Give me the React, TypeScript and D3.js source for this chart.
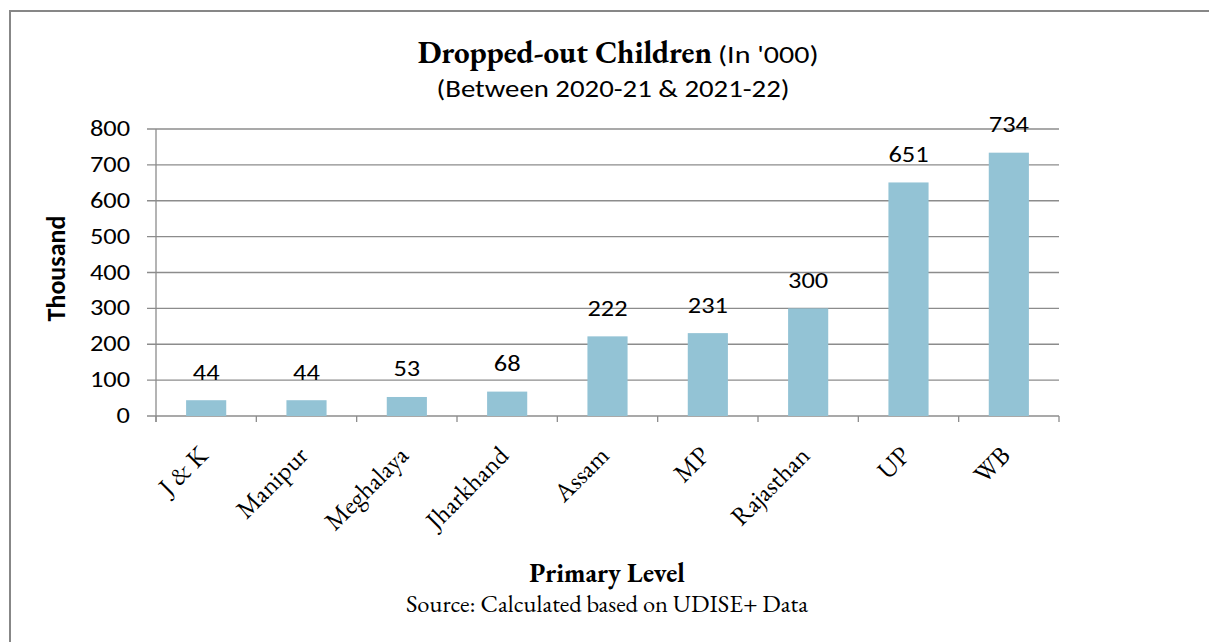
import React, { useEffect, useRef } from 'react'
import * as d3 from 'd3'

// states and dropped-out children ('000), primary level
const STATES = ['J & K', 'Manipur', 'Meghalaya', 'Jharkhand', 'Assam', 'MP', 'Rajasthan', 'UP', 'WB']
const DROPOUTS = [44, 44, 53, 68, 222, 231, 300, 651, 734]
const Y_TICKS = [0, 100, 200, 300, 400, 500, 600, 700, 800]

const W = 1209
const H = 642
const SANS = 'Carlito, Calibri, "Open Sans", sans-serif'
const SERIF = '"EB Garamond", Garamond, "Liberation Serif", serif'
const SX = 1.2 // the source picture is a bit wider than tall

const App: React.FC = () => {
  const ref = useRef<SVGSVGElement>(null)

  useEffect(() => {
    if (!ref.current) return
    const svg = d3.select(ref.current)
    svg.selectAll('*').remove()

    const plot = { left: 156, right: 1059, top: 129, bottom: 416 }
    const grid = '#8c8c8c'

    // outer frame (only left and top visible)
    svg.append('path')
      .attr('d', `M10,${H} L10,11 L${W},11`)
      .attr('fill', 'none')
      .attr('stroke', '#878787')
      .attr('stroke-width', 2)

    const x = d3.scaleBand<string>()
      .domain(STATES)
      .range([plot.left, plot.right])
      .paddingInner(0.6)
      .paddingOuter(0.3)

    const y = d3.scaleLinear()
      .domain([0, 800])
      .range([plot.bottom, plot.top])

    // gridlines (with the little tick stubs on the left)
    svg.append('g')
      .selectAll('line')
      .data(Y_TICKS)
      .join('line')
      .attr('x1', plot.left - 9)
      .attr('x2', plot.right)
      .attr('y1', d => y(d))
      .attr('y2', d => y(d))
      .attr('stroke', grid)
      .attr('stroke-width', 1.3)

    // y tick labels
    svg.append('g')
      .selectAll('text')
      .data(Y_TICKS)
      .join('text')
      .attr('transform', d => `translate(130,${y(d)}) scale(${SX},1)`)
      .attr('dy', '0.32em')
      .attr('text-anchor', 'end')
      .attr('font-family', SANS)
      .attr('font-size', 22)
      .text(d => d)

    // vertical axis line
    svg.append('line')
      .attr('x1', plot.left).attr('x2', plot.left)
      .attr('y1', plot.top).attr('y2', plot.bottom + 6)
      .attr('stroke', grid).attr('stroke-width', 1.3)

    // category separator ticks
    const step = x.step()
    const sepX = d3.range(STATES.length + 1).map(i => plot.left + i * step)
    svg.append('g')
      .selectAll('line')
      .data(sepX)
      .join('line')
      .attr('x1', d => d).attr('x2', d => d)
      .attr('y1', plot.bottom).attr('y2', plot.bottom + 6)
      .attr('stroke', grid).attr('stroke-width', 1.3)

    // bars
    svg.append('g')
      .selectAll('rect')
      .data(DROPOUTS)
      .join('rect')
      .attr('x', (d, i) => x(STATES[i])!)
      .attr('y', d => y(d))
      .attr('width', x.bandwidth())
      .attr('height', d => y(0) - y(d))
      .attr('fill', '#93c3d5')

    // value labels
    svg.append('g')
      .selectAll('text')
      .data(DROPOUTS)
      .join('text')
      .attr('transform', (d, i) => `translate(${x(STATES[i])! + x.bandwidth() / 2},${y(d) - 20.5}) scale(${SX},1)`)
      .attr('text-anchor', 'middle')
      .attr('font-family', SANS)
      .attr('font-size', 22)
      .text(d => d)

    // x labels, rotated
    svg.append('g')
      .selectAll('text')
      .data(STATES)
      .join('text')
      .attr('transform', d => `translate(${x(d)! + x.bandwidth() / 2 + 3},${plot.bottom + 41}) rotate(-45)`)
      .attr('text-anchor', 'end')
      .attr('font-family', SERIF)
      .attr('font-size', 26)
      .text(d => d)

    // y axis title
    svg.append('text')
      .attr('transform', `translate(65,268.5) rotate(-90)`)
      .attr('text-anchor', 'middle')
      .attr('font-family', SANS)
      .attr('font-weight', 700)
      .attr('font-size', 26)
      .text('Thousand')

    // title
    svg.append('text')
      .attr('x', 712)
      .attr('y', 63)
      .attr('text-anchor', 'end')
      .attr('font-family', SERIF)
      .attr('font-weight', 700)
      .attr('font-size', 31)
      .text('Dropped-out Children')

    svg.append('text')
      .attr('transform', `translate(718,63) scale(${SX},1)`)
      .attr('font-family', SANS)
      .attr('font-size', 25)
      .text("(In '000)")

    svg.append('text')
      .attr('transform', `translate(613,97) scale(${SX},1)`)
      .attr('text-anchor', 'middle')
      .attr('font-family', SANS)
      .attr('font-size', 24)
      .text('(Between 2020-21 & 2021-22)')

    svg.append('text')
      .attr('x', 607)
      .attr('y', 582)
      .attr('text-anchor', 'middle')
      .attr('font-family', SERIF)
      .attr('font-weight', 700)
      .attr('font-size', 26.5)
      .text('Primary Level')

    svg.append('text')
      .attr('x', 607)
      .attr('y', 612)
      .attr('text-anchor', 'middle')
      .attr('font-family', SERIF)
      .attr('font-size', 24.5)
      .text('Source: Calculated based on UDISE+ Data')
  }, [])

  return (
    <svg
      ref={ref}
      width={W}
      height={H}
      style={{ position: 'absolute', left: 0, top: 0, background: '#fff' }}
    />
  )
}

export default App
